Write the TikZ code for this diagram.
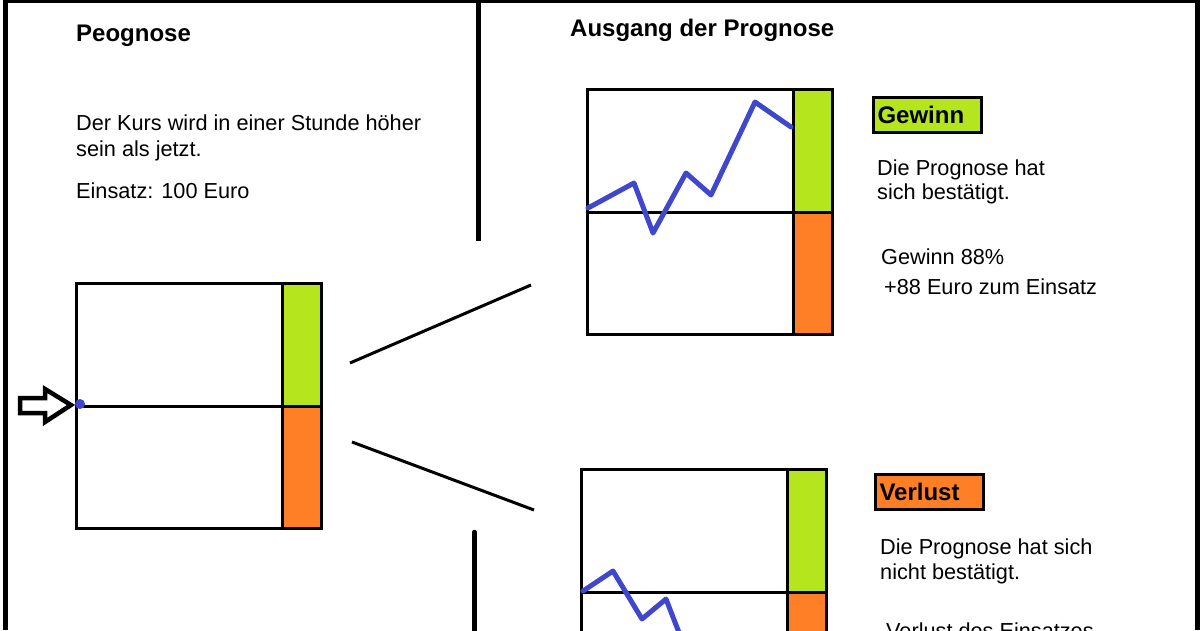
\documentclass[tikz,border=0pt]{standalone}
\usepackage{fontspec}
\setmainfont{Liberation Sans}
\definecolor{gwgreen}{HTML}{B5E61D}
\definecolor{vlorange}{HTML}{FF7F27}
\definecolor{kursblue}{HTML}{3F48CC}
\tikzset{
  divline/.style={line width=4.5pt},
  chartline/.style={line width=3pt},
  conn/.style={line width=3pt},
  kurs/.style={kursblue,line width=5pt,line join=round,line cap=round},
  txt/.style={anchor=base west,inner sep=0pt,font=\fontsize{21.7}{26}\selectfont},
  ttl/.style={anchor=base west,inner sep=0pt,font=\fontsize{24}{28}\selectfont\bfseries},
  tag/.style={draw,line width=3pt,anchor=north west,inner sep=0pt,minimum height=35pt,minimum width=108pt,text width=100pt,align=left,font=\fontsize{24}{28}\selectfont\bfseries}
}
\newcommand\kurschart[3]{% name, left x, top y
  \fill[gwgreen] (#2+207,#3) rectangle (#2+245,#3+124);
  \fill[vlorange] (#2+207,#3+124) rectangle (#2+245,#3+245);
  \node[chartline,draw,anchor=north west,minimum width=245pt,minimum height=245pt,inner sep=0pt] (#1) at (#2,#3) {};
  \draw[chartline] (#2+207,#3) -- (#2+207,#3+245);
  \draw[chartline] (#2,#3+124) -- (#2+245,#3+124);
}
\begin{document}
\begin{tikzpicture}[x=1pt,y=-1pt]
\useasboundingbox (0,0) rectangle (1200,630);
\clip (0,0) rectangle (1200,630);
% frame
\fill (3,0) rectangle (8,630);
\fill (3,0) rectangle (1200,3);
\fill (1195,0) rectangle (1200,630);
% dividers
\coordinate (d1a) at (478.5,0);
\coordinate (d1b) at (478.5,241);
\draw[divline] (d1a) -- (d1b);
\coordinate (d2a) at (474.5,532);
\coordinate (d2b) at (474.5,640);
\draw[divline,line cap=round] (d2a) -- (d2b);
% charts
\kurschart{c0}{75}{282}
\kurschart{c1}{586}{88}
\kurschart{c2}{580}{468}
% kurs lines
\draw[kurs] (588,208) -- (634,183) -- (653,233) -- (686,173) -- (711,195) -- (755,102) -- (791,127);
\draw[kurs] (583,591) -- (613,571) -- (642,619) -- (666,599) -- (678,630) -- (686,650);
% arrow and dot
\draw[line width=4.5pt,line join=miter,fill=white] (20,398) -- (45,398) -- (45,389) -- (71,405) -- (45,422) -- (45,413) -- (20,413) -- cycle;
\fill[kursblue] (80,404) circle (5);
% connectors
\coordinate (u1) at (350,363);
\coordinate (u2) at (531,285);
\coordinate (l1) at (352,442);
\coordinate (l2) at (534,510);
\draw[conn] (u1) -- (u2);
\draw[conn] (l1) -- (l2);
% texts left
\node[ttl] (t0) at (76,41) {Peognose};
\node[txt] (t1) at (76,130) {Der Kurs wird in einer Stunde höher};
\node[txt] (t2) at (76,156) {sein als jetzt.};
\node[txt] (t3) at (76,198) {Einsatz: 100 Euro};
% texts right
\node[ttl] (t4) at (570,36) {Ausgang der Prognose};
\node[tag,fill=gwgreen] (g) at (872,96) {Gewinn};
\node[txt] (g1) at (877,175) {Die Prognose hat};
\node[txt] (g2) at (877,199) {sich bestätigt.};
\node[txt] (g3) at (881,264) {Gewinn 88\%};
\node[txt] (g4) at (884,294) {+88 Euro zum Einsatz};
\node[tag,fill=vlorange] (v) at (874,473) {Verlust};
\node[txt] (v1) at (880,554) {Die Prognose hat sich};
\node[txt] (v2) at (880,579) {nicht bestätigt.};
\node[txt] (v3) at (886,638) {Verlust des Einsatzes};
\end{tikzpicture}
\end{document}
